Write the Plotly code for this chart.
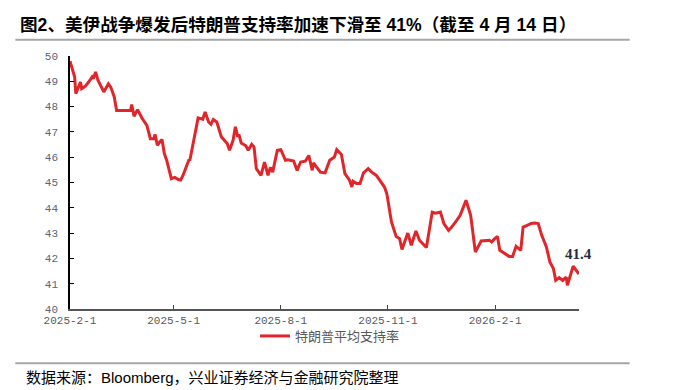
import plotly.graph_objects as go

# ---- data ----
dates = [
    "2025-02-01", "2025-02-03", "2025-02-05", "2025-02-06", "2025-02-10", "2025-02-11",
    "2025-02-14", "2025-02-17", "2025-02-20", "2025-02-21", "2025-02-23", "2025-02-25",
    "2025-02-28", "2025-03-02", "2025-03-06", "2025-03-08", "2025-03-11", "2025-03-13",
    "2025-03-25", "2025-03-26", "2025-03-28", "2025-03-31", "2025-04-04", "2025-04-08",
    "2025-04-11", "2025-04-14", "2025-04-15", "2025-04-17", "2025-04-19", "2025-04-21",
    "2025-04-23", "2025-04-25", "2025-04-29", "2025-05-02", "2025-05-05", "2025-05-07",
    "2025-05-09", "2025-05-14", "2025-05-15", "2025-05-18", "2025-05-21", "2025-05-22",
    "2025-05-26", "2025-05-28", "2025-05-31", "2025-06-02", "2025-06-04", "2025-06-07",
    "2025-06-11", "2025-06-16", "2025-06-18", "2025-06-21", "2025-06-23", "2025-06-25",
    "2025-06-26", "2025-06-28", "2025-07-02", "2025-07-04", "2025-07-07", "2025-07-09",
    "2025-07-11", "2025-07-15", "2025-07-18", "2025-07-21", "2025-07-23", "2025-07-25",
    "2025-07-29", "2025-08-01", "2025-08-05", "2025-08-07", "2025-08-12", "2025-08-15",
    "2025-08-18", "2025-08-22", "2025-08-25", "2025-08-28", "2025-08-29", "2025-09-02",
    "2025-09-04", "2025-09-08", "2025-09-12", "2025-09-16", "2025-09-18", "2025-09-22",
    "2025-09-25", "2025-09-29", "2025-10-01", "2025-10-02", "2025-10-05", "2025-10-08",
    "2025-10-11", "2025-10-15", "2025-10-18", "2025-10-22", "2025-10-26", "2025-10-29",
    "2025-10-31", "2025-11-04", "2025-11-08", "2025-11-11", "2025-11-13", "2025-11-15",
    "2025-11-18", "2025-11-21", "2025-11-25", "2025-11-28", "2025-12-04", "2025-12-09",
    "2025-12-12", "2025-12-16", "2025-12-19", "2025-12-23", "2025-12-25", "2025-12-30",
    "2026-01-02", "2026-01-07", "2026-01-11", "2026-01-15", "2026-01-20", "2026-01-27",
    "2026-01-29", "2026-01-31", "2026-02-03", "2026-02-05", "2026-02-09", "2026-02-13",
    "2026-02-16", "2026-02-19", "2026-02-23", "2026-02-25", "2026-02-28", "2026-03-04",
    "2026-03-07", "2026-03-10", "2026-03-13", "2026-03-17", "2026-03-20", "2026-03-23",
    "2026-03-25", "2026-03-28", "2026-03-31", "2026-04-03", "2026-04-04", "2026-04-07",
    "2026-04-09", "2026-04-14",
]
approval = [
    49.8, 49.5, 49.17, 48.51, 48.97, 48.71,
    48.8, 48.97, 49.17, 49.1, 49.37, 49.04,
    48.77, 48.58, 48.9, 48.77, 48.38, 47.85,
    47.85, 48.08, 47.62, 47.88, 47.53, 47.26,
    46.73, 46.73, 46.9, 46.47, 46.6, 46.7,
    46.14, 45.88, 45.15, 45.2, 45.12, 45.1,
    45.28, 45.88, 45.9, 46.67, 47.46, 47.55,
    47.5, 47.79, 47.39, 47.3, 47.49, 47.39,
    46.8, 46.54, 46.27, 46.67, 47.2, 46.8,
    46.9, 46.56, 46.45, 46.27, 46.51, 46.4,
    45.55, 45.28, 45.81, 45.28, 45.6, 45.41,
    46.27, 46.3, 45.88, 45.9, 45.85, 45.48,
    45.81, 45.84, 46.07, 45.48, 45.77, 45.55,
    45.41, 45.38, 45.88, 46.01, 46.3, 46.11,
    45.35, 45.09, 44.82, 45.05, 44.96, 44.96,
    45.38, 45.55, 45.41, 45.28, 45.02, 44.82,
    44.56, 43.44, 42.87, 42.78, 42.35, 42.58,
    43.0, 42.52, 43.08, 42.72, 42.43, 43.83,
    43.79, 43.83, 43.38, 43.11, 43.2, 43.5,
    43.7, 44.3, 43.7, 42.25, 42.69, 42.72,
    42.65, 42.75, 42.87, 42.32, 42.21, 42.08,
    42.08, 42.48, 42.32, 43.24, 43.3, 43.38,
    43.4, 43.38, 42.91, 42.45, 41.86, 41.6,
    41.13, 41.24, 41.13, 41.26, 40.94, 41.4,
    41.69, 41.38,
]
series_name = "特朗普平均支持率"
last_label = "41.4"

x_tick_vals = ["2025-02-01", "2025-05-01", "2025-08-01", "2025-11-01", "2026-02-01"]
x_tick_text = ["2025-2-1", "2025-5-1", "2025-8-1", "2025-11-1", "2026-2-1"]
y_tick_vals = [40, 41, 42, 43, 44, 45, 46, 47, 48, 49, 50]

title_text = "图2、美伊战争爆发后特朗普支持率加速下滑至 41%（截至 4 月 14 日）"
source_text = "数据来源：Bloomberg，兴业证券经济与金融研究院整理"

# ---- layout geometry (pixels, in window coordinates) ----
OFF = 8                      # page body margin that offsets the figure
WIN_W, WIN_H = 676, 390
W, H = WIN_W - OFF, WIN_H - OFF
L, R, T, B = 69.7 - OFF, 579.3 - OFF, 55.7 - OFF, 308.7 - OFF
pw, ph = R - L, B - T


def px(x):
    return (x - OFF - L) / pw


def py(y):
    return (B - (y - OFF)) / ph


RED = "#E0262A"
GREY_TXT = "#595959"

fig = go.Figure()
fig.add_trace(go.Scatter(
    x=dates, y=approval, mode="lines", name=series_name,
    line=dict(color=RED, width=3), showlegend=True,
))

fig.update_layout(
    width=W, height=H,
    margin=dict(l=L, r=W - R, t=T, b=H - B, pad=0, autoexpand=False),
    paper_bgcolor="white", plot_bgcolor="white",
    showlegend=True,
    legend=dict(
        orientation="h", xref="container", yref="container",
        x=(255 - OFF) / W, y=1 - (336 - OFF) / H, xanchor="left", yanchor="middle",
        font=dict(family="Noto Sans CJK SC", size=13, color=GREY_TXT),
        bgcolor="rgba(0,0,0,0)", borderwidth=0,
    ),
    xaxis=dict(
        type="date", range=["2025-02-01", "2026-04-14"],
        tickmode="array", tickvals=x_tick_vals, ticktext=x_tick_text,
        ticks="inside", ticklen=4, tickcolor="#404040", tickwidth=1,
        showline=True, linecolor="#555555", linewidth=1.5,
        showgrid=False, zeroline=False,
        tickfont=dict(family="Liberation Mono", size=11, color=GREY_TXT),
    ),
    yaxis=dict(
        range=[40, 50], tickmode="array", tickvals=y_tick_vals,
        ticks="inside", ticklen=4, tickcolor="black", tickwidth=1,
        showline=True, linecolor="black", linewidth=1.5,
        showgrid=False, zeroline=False,
        tickfont=dict(family="Liberation Mono", size=11, color="#5A6478"),
        ticklabelstandoff=8,
    ),
    font=dict(family="Liberation Sans, Noto Sans CJK SC"),
)

# title
fig.add_annotation(
    xref="paper", yref="paper", x=px(18), y=py(25), xanchor="left", yanchor="middle",
    text="<b>" + title_text + "</b>", showarrow=False,
    font=dict(family="Liberation Sans, Noto Sans CJK SC", size=17.6, color="black"),
)
# source
fig.add_annotation(
    xref="paper", yref="paper", x=px(24), y=py(377), xanchor="left", yanchor="middle",
    text=source_text, showarrow=False,
    font=dict(family="Liberation Sans, Noto Sans CJK SC", size=15, color="black"),
)
# last value label
fig.add_annotation(
    x=dates[-1], y=approval[-1], text="<b>" + last_label + "</b>", showarrow=False,
    xanchor="center", yanchor="middle", xshift=-1, yshift=20,
    font=dict(family="Liberation Serif", size=15, color="#2B2B35"),
)
# separator lines
for yy in (39.5, 363):
    fig.add_shape(
        type="line", xref="paper", yref="paper",
        x0=px(15), x1=px(630), y0=py(yy), y1=py(yy),
        line=dict(color="#A6A6A6", width=2),
    )

fig.write_html("out.html")
